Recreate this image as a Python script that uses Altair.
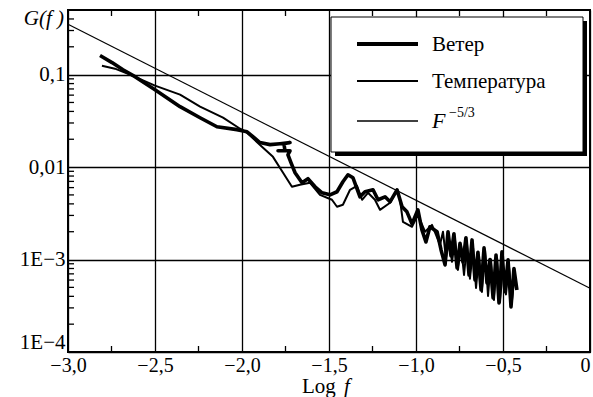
import math
import altair as alt
import pandas as pd

# ---- data ----
wind_x = [-2.816, -2.747, -2.684, -2.615, -2.5, -2.356, -2.241, -2.144, -2.029, -1.971,
          -1.937, -1.897, -1.839, -1.782, -1.724, -1.759, -1.753, -1.793, -1.724, -1.736,
          -1.718, -1.695, -1.655, -1.621, -1.580, -1.540, -1.494, -1.454, -1.420, -1.391,
          -1.362, -1.322, -1.293, -1.247, -1.218, -1.178, -1.149, -1.109, -1.080, -1.052,
          -1.023, -0.989, -0.966, -0.943, -0.920, -0.879, -0.856,
          -0.833, -0.816, -0.799, -0.782, -0.764, -0.747, -0.730, -0.713, -0.695, -0.678,
          -0.661, -0.644, -0.626, -0.609, -0.592, -0.575, -0.557, -0.540, -0.523, -0.506,
          -0.489, -0.471, -0.454, -0.437, -0.420]
wind_g = [0.161, 0.135, 0.113, 0.0951, 0.0688, 0.0450, 0.0342, 0.0273, 0.0254, 0.0241,
          0.0213, 0.0184, 0.0175, 0.0179, 0.0184, 0.0179, 0.0150, 0.0150, 0.0150, 0.0136,
          0.0111, 0.00869, 0.00676, 0.00748, 0.00612, 0.00527, 0.00501, 0.00541, 0.00694, 0.00826,
          0.00766, 0.00477, 0.00541, 0.00568, 0.00443, 0.00477, 0.00421, 0.00568, 0.00372, 0.00328,
          0.00243, 0.00345, 0.00209, 0.00155, 0.00226, 0.00200, 0.00127,
          0.000875, 0.00200, 0.00110, 0.00190, 0.000813, 0.00150, 0.000944, 0.00172, 0.000680, 0.00163,
          0.000603, 0.00120, 0.000469, 0.00134, 0.000560, 0.00100, 0.000385, 0.00112, 0.000340, 0.00121,
          0.000450, 0.000991, 0.000307, 0.000800, 0.000469]

temp_x = [-2.805, -2.730, -2.644, -2.5, -2.356, -2.241, -2.109, -2.011, -1.971, -1.879,
          -1.822, -1.764, -1.713, -1.667, -1.609, -1.552, -1.483, -1.454, -1.420, -1.379,
          -1.339, -1.310, -1.276, -1.236, -1.207, -1.149, -1.109, -1.092, -1.075, -1.023,
          -0.989, -0.948, -0.908,
          -0.862, -0.845, -0.828, -0.810, -0.793, -0.776, -0.759, -0.741, -0.724, -0.707,
          -0.690, -0.672, -0.655, -0.638, -0.621, -0.603, -0.586, -0.569, -0.552, -0.534,
          -0.517, -0.500, -0.483, -0.466, -0.448, -0.437]
temp_g = [0.125, 0.116, 0.100, 0.0760, 0.0607, 0.0450, 0.0342, 0.0260, 0.0235, 0.0162,
          0.0129, 0.00869, 0.00612, 0.00644, 0.00676, 0.00501, 0.00443, 0.00372, 0.00391, 0.00568,
          0.00628, 0.00443, 0.00527, 0.00443, 0.00345, 0.00411, 0.00568, 0.00443, 0.00256, 0.00226,
          0.00305, 0.00200, 0.00237,
          0.00144, 0.00200, 0.00104, 0.00160, 0.000944, 0.00163, 0.000773, 0.00140, 0.000682, 0.00148,
          0.000620, 0.00134, 0.000493, 0.00110, 0.000447, 0.00125, 0.000404, 0.00100, 0.000366, 0.00104,
          0.000348, 0.000880, 0.000420, 0.000853, 0.000366, 0.000603]

ref_x = [-3.0, 0.0]
ref_g = [0.35, 0.00049]

x_tick_vals = [-3.0, -2.5, -2.0, -1.5, -1.0, -0.5, 0.0]
x_tick_labels = ["−3,0", "−2,5", "−2,0", "−1,5", "−1,0", "−0,5", "0"]
x_minor = [-2.75, -2.25, -1.75, -1.25, -0.75, -0.25]
y_tick_vals = [1e-4, 1e-3, 1e-2, 1e-1]
y_tick_labels = ["1E−4", "1E−3", "0,01", "0,1"]
y_minor = [2e-4, 3e-4, 4e-4, 5e-4, 6e-4, 7e-4, 8e-4, 9e-4,
           2e-3, 3e-3, 4e-3, 5e-3, 6e-3, 7e-3, 8e-3, 9e-3,
           2e-2, 3e-2, 4e-2, 5e-2, 6e-2, 7e-2, 8e-2, 9e-2,
           0.2, 0.3, 0.4]
legend_labels = ["Ветер", "Температура", "F", "−5/3"]
x_title = ["Log", "f"]
y_title = "G(f )"

FONT = "Liberation Serif, DejaVu Serif, serif"
W, H = 522, 342

x_expr = "".join(
    f"round(datum.value*10) == {round(v*10)} ? '{l}' : " for v, l in zip(x_tick_vals, x_tick_labels)
) + "''"
y_expr = "".join(
    f"round(log(datum.value)/LN10) == {round(math.log10(v))} ? '{l}' : "
    for v, l in zip(y_tick_vals, y_tick_labels)
) + "''"

xs = alt.Scale(domain=[-3, 0], nice=False, zero=False)
ys = alt.Scale(type="log", domain=[1e-4, 0.5], nice=False)

xaxis = alt.Axis(values=x_tick_vals, labelExpr=x_expr, grid=True, ticks=False, domain=False,
                 title=None, labelFont=FONT, labelFontSize=20, labelColor="black",
                 labelPadding=3, labelFlush=False,
                 labelAlign={"condition": {"test": "datum.value == 0", "value": "right"}, "value": "center"},
                 gridColor="black", gridWidth=1.3, gridOpacity=1)
yaxis = alt.Axis(values=y_tick_vals, labelExpr=y_expr, grid=True, ticks=False, domain=False,
                 title=None, labelFont=FONT, labelFontSize=21, labelColor="black",
                 labelPadding=3, labelFlush=True, gridColor="black", gridWidth=1.3, gridOpacity=1)

X = alt.X("x:Q", scale=xs, axis=xaxis)
Y = alt.Y("g:Q", scale=ys, axis=yaxis)

df_w = pd.DataFrame({"x": wind_x, "g": wind_g, "i": range(len(wind_x))})
df_t = pd.DataFrame({"x": temp_x, "g": temp_g, "i": range(len(temp_x))})
df_r = pd.DataFrame({"x": ref_x, "g": ref_g, "i": range(len(ref_x))})
one = pd.DataFrame({"a": [0]})

ref_line = alt.Chart(df_r).mark_line(color="black", strokeWidth=1.2).encode(x=X, y=Y, order="i:Q")
temp_line = alt.Chart(df_t).mark_line(color="black", strokeWidth=2.0, strokeJoin="round").encode(
    x=X, y=Y, order="i:Q")
wind_line = alt.Chart(df_w).mark_line(color="black", strokeWidth=3.6, strokeJoin="round").encode(
    x=X, y=Y, order="i:Q")

ytick = alt.Chart(pd.DataFrame({"g": y_minor})).mark_rule(color="black", strokeWidth=1.3).encode(
    y=Y, x=alt.value(0), x2=alt.value(6))
xtick_b = alt.Chart(pd.DataFrame({"x": x_minor})).mark_rule(color="black", strokeWidth=1.3).encode(
    x=X, y=alt.value(H), y2=alt.value(H - 6))
xtick_t = alt.Chart(pd.DataFrame({"x": x_minor})).mark_rule(color="black", strokeWidth=1.3).encode(
    x=X, y=alt.value(0), y2=alt.value(6))

shadow = alt.Chart(one).mark_rect(color="black").encode(
    x=alt.value(267), x2=alt.value(519), y=alt.value(11), y2=alt.value(146))
box = alt.Chart(one).mark_rect(fill="white", stroke="black", strokeWidth=1).encode(
    x=alt.value(263), x2=alt.value(515), y=alt.value(7), y2=alt.value(142))
s1 = alt.Chart(one).mark_rule(color="black", strokeWidth=4).encode(
    x=alt.value(289), x2=alt.value(350), y=alt.value(34))
s2 = alt.Chart(one).mark_rule(color="black", strokeWidth=2).encode(
    x=alt.value(289), x2=alt.value(350), y=alt.value(71))
s3 = alt.Chart(one).mark_rule(color="black", strokeWidth=1.3).encode(
    x=alt.value(289), x2=alt.value(350), y=alt.value(111))
t1 = alt.Chart(one).mark_text(text=legend_labels[0], font=FONT, fontSize=21, align="left",
                              baseline="alphabetic", color="black").encode(x=alt.value(364), y=alt.value(41))
t2 = alt.Chart(one).mark_text(text=legend_labels[1], font=FONT, fontSize=21, align="left",
                              baseline="alphabetic", color="black").encode(x=alt.value(364), y=alt.value(78))
t3 = alt.Chart(one).mark_text(text=legend_labels[2], font=FONT, fontSize=22, fontStyle="italic",
                              align="left", baseline="alphabetic", color="black").encode(
    x=alt.value(364), y=alt.value(118))
t4 = alt.Chart(one).mark_text(text=legend_labels[3], font=FONT, fontSize=14, align="left",
                              baseline="alphabetic", color="black").encode(x=alt.value(381), y=alt.value(107))

xt1 = alt.Chart(one).mark_text(text=x_title[0], font=FONT, fontSize=21, align="left",
                               baseline="alphabetic", color="black").encode(x=alt.value(234), y=alt.value(383))
xt2 = alt.Chart(one).mark_text(text=x_title[1], font=FONT, fontSize=21, fontStyle="italic", align="left",
                               baseline="alphabetic", color="black").encode(x=alt.value(276), y=alt.value(383))
yt = alt.Chart(one).mark_text(text=y_title, font=FONT, fontSize=21, fontStyle="italic", align="right",
                              baseline="alphabetic", color="black").encode(x=alt.value(-4), y=alt.value(15))

chart = alt.layer(
    ytick, xtick_b, xtick_t, ref_line, temp_line, wind_line,
    shadow, box, s1, s2, s3, t1, t2, t3, t4, xt1, xt2, yt
).properties(
    width=W, height=H,
    padding={"left": 68, "top": 10, "right": 3, "bottom": 45},
    autosize=alt.AutoSizeParams(type="none"),
    background="white",
).configure_view(stroke="black", strokeWidth=2)

chart.save("out.html", embed_options={"renderer": "svg", "actions": False})
